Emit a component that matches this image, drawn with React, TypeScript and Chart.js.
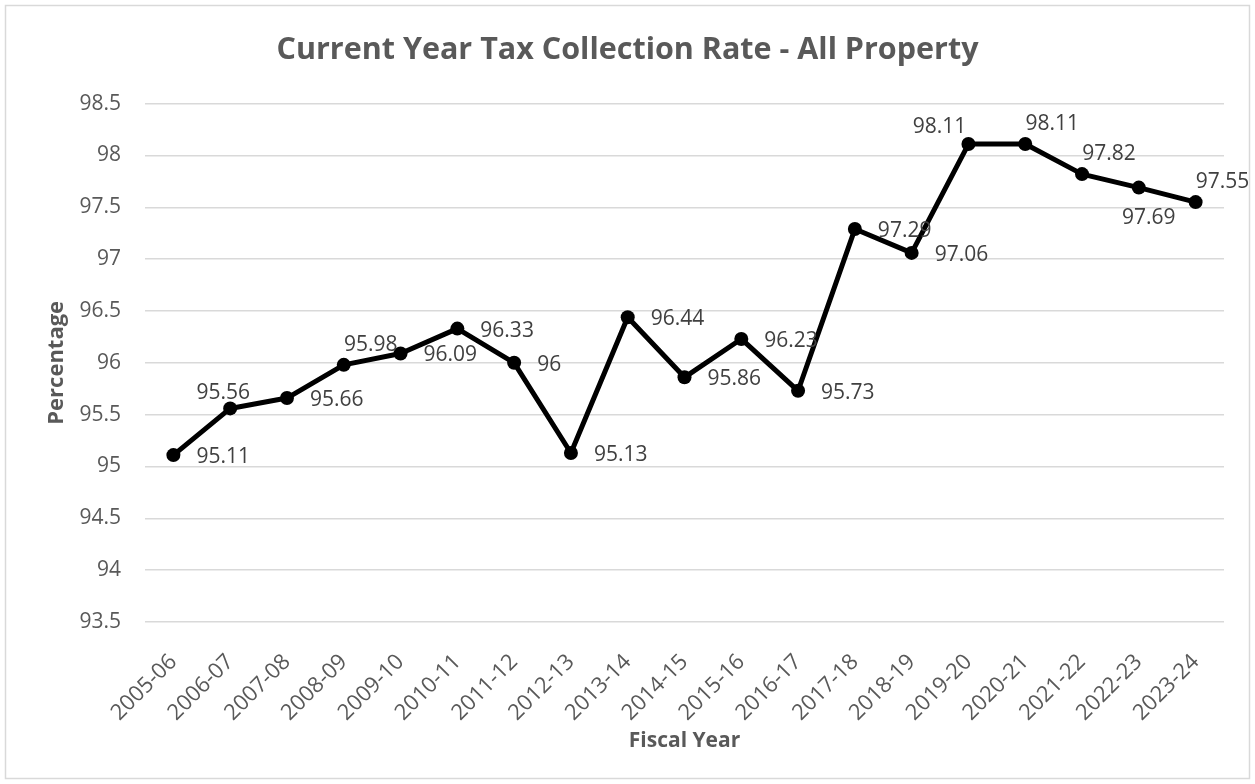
import React, { useEffect, useRef } from "react";
import { Chart, registerables } from "chart.js";

Chart.register(...registerables);

const categories = [
  "2005-06", "2006-07", "2007-08", "2008-09", "2009-10", "2010-11", "2011-12",
  "2012-13", "2013-14", "2014-15", "2015-16", "2016-17", "2017-18", "2018-19",
  "2019-20", "2020-21", "2021-22", "2022-23", "2023-24",
];

const rates = [
  95.11, 95.56, 95.66, 95.98, 96.09, 96.33, 96, 95.13, 96.44, 95.86, 96.23,
  95.73, 97.29, 97.06, 98.11, 98.11, 97.82, 97.69, 97.55,
];

const yMin = 93.5;
const yMax = 98.5;
const yStep = 0.5;

const labelPlacement = [
  "right", "above", "right", "aboveRight", "right", "right", "right", "right",
  "right", "right", "right", "right", "right", "right", "aboveLeft",
  "aboveRight", "aboveRight", "below", "aboveRight",
];

const FONT = "'Open Sans', 'Liberation Sans', sans-serif";

const frame = {
  id: "frame",
  beforeDraw(chart: any) {
    const { ctx, width, height } = chart;
    ctx.save();
    ctx.fillStyle = "#ffffff";
    ctx.fillRect(0, 0, width, height);
    ctx.strokeStyle = "#d9d9d9";
    ctx.lineWidth = 1.5;
    ctx.strokeRect(5.5, 5.5, width - 11, height - 11);
    ctx.restore();
  },
};

const valueLabels = {
  id: "valueLabels",
  afterDatasetsDraw(chart: any) {
    const ctx = chart.ctx;
    const meta = chart.getDatasetMeta(0);
    ctx.save();
    ctx.font = `21px ${FONT}`;
    ctx.fillStyle = "#404040";
    ctx.textBaseline = "middle";
    meta.data.forEach((pt: any, i: number) => {
      const text = String(rates[i]);
      let x = pt.x;
      let y = pt.y;
      let align: CanvasTextAlign = "center";
      switch (labelPlacement[i]) {
        case "right":
          align = "left";
          x += 23;
          y += 2;
          break;
        case "above":
          x -= 7;
          y -= 15;
          break;
        case "aboveRight":
          x += 27;
          y -= 20;
          break;
        case "aboveLeft":
          x -= 29;
          y -= 17;
          break;
        case "below":
          x += 10;
          y += 30;
          break;
      }
      ctx.textAlign = align;
      ctx.fillText(text, x, y);
    });
    ctx.restore();
  },
};

export default function App() {
  const ref = useRef<HTMLCanvasElement | null>(null);

  useEffect(() => {
    document.body.style.margin = "0";
    const canvas = ref.current;
    if (!canvas) return;
    const chart = new Chart(canvas, {
      type: "line",
      data: {
        labels: categories,
        datasets: [
          {
            data: rates,
            borderColor: "#000000",
            backgroundColor: "#000000",
            borderWidth: 5,
            borderJoinStyle: "round",
            pointRadius: 7,
            pointHoverRadius: 7,
            pointBackgroundColor: "#000000",
            pointBorderColor: "#000000",
            pointBorderWidth: 0,
            tension: 0,
          },
        ],
      },
      options: {
        responsive: false,
        animation: false,
        devicePixelRatio: 1,
        layout: { padding: { left: 0, right: 0, top: 0, bottom: 0 } },
        plugins: {
          legend: { display: false },
          tooltip: { enabled: false },
          title: {
            display: true,
            text: "Current Year Tax Collection Rate - All Property",
            color: "#595959",
            font: { family: FONT, size: 30.5, weight: "bold" },
            padding: { top: 32, bottom: 35 },
          },
        },
        scales: {
          x: {
            offset: true,
            grid: { display: false },
            border: { display: false },
            afterFit(scale: any) {
              scale.height = 162;
            },
            ticks: {
              color: "#595959",
              font: { family: FONT, size: 22 },
              maxRotation: 45,
              minRotation: 45,
              padding: 19,
            },
            title: {
              display: true,
              text: "Fiscal Year",
              color: "#595959",
              font: { family: FONT, size: 21, weight: "bold" },
              padding: { top: 10, bottom: 30 },
            },
          },
          y: {
            min: yMin,
            max: yMax,
            border: { display: false },
            grid: { color: "#d9d9d9", lineWidth: 1.5, drawTicks: false },
            afterFit(scale: any) {
              scale.width = 145;
            },
            ticks: {
              stepSize: yStep,
              color: "#595959",
              font: { family: FONT, size: 21 },
              padding: 24,
              callback: (v: any) => String(Number(Number(v).toFixed(1))),
            },
            title: {
              display: true,
              text: "Percentage",
              color: "#595959",
              font: { family: FONT, size: 22, weight: "bold" },
              padding: { top: 44, bottom: 0 },
            },
          },
          yRight: {
            position: "right",
            min: yMin,
            max: yMax,
            display: true,
            grid: { display: false, drawTicks: false },
            border: { display: false },
            ticks: { display: false },
            afterFit(scale: any) {
              scale.width = 31;
            },
          },
        },
      },
      plugins: [frame, valueLabels],
    });
    return () => chart.destroy();
  }, []);

  return (
    <div style={{ width: 1255, height: 784 }}>
      <canvas ref={ref} width={1255} height={784} style={{ display: "block" }} />
    </div>
  );
}
